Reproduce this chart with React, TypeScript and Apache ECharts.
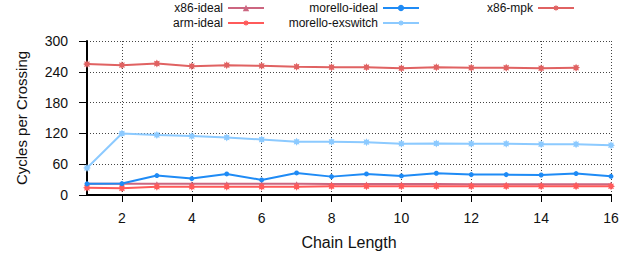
import React, { useEffect, useRef } from "react";
import * as echarts from "echarts";

const chainLengths = ["1","2","3","4","5","6","7","8","9","10","11","12","13","14","15","16"];
const x86Ideal = [22, 22, 22, 22, 22, 22, 22, 21.5, 21.5, 21.5, 21.5, 21, 21, 21, 21, 21];
const armIdeal = [14, 13, 16, 16, 16, 16, 16, 17, 17, 17, 17, 17, 17, 17, 17, 17];
const morelloIdeal = [21.7, 22.3, 37.8, 32, 41, 29.4, 43, 35.8, 41, 37.2, 42.3, 39.7, 39.7, 39, 41.7, 36.4];
const morelloExswitch = [52.7, 119.8, 117, 114.7, 112, 108, 103.7, 103.7, 103, 99.8, 100.5, 99.8, 99.8, 99, 99, 97];
const x86Mpk = [255, 253, 256, 251, 253, 251.6, 250, 249, 249, 247, 249, 248, 248, 247, 248];
const yTicks = { min: 0, max: 300, interval: 60 };

function starPath(): string {
  const pts: string[] = [];
  for (let i = 0; i < 16; i++) {
    const a = (Math.PI * 2 * i) / 16 - Math.PI / 2;
    const r = i % 2 === 0 ? 10 : 6;
    pts.push(`${(10 + r * Math.cos(a)).toFixed(2)} ${(10 + r * Math.sin(a)).toFixed(2)}`);
  }
  return "path://M" + pts.join(" L") + " Z";
}

export default function App() {
  const ref = useRef<HTMLDivElement>(null);
  useEffect(() => {
    if (!ref.current) return;
    const chart = echarts.init(ref.current, undefined, { renderer: "svg" });
    const star = starPath();
    const font = "Liberation Sans";
    const mk = (name: string, data: number[], color: string, symbol: string, size: number, z: number) => ({
      name,
      type: "line",
      data,
      symbol,
      symbolSize: size,
      showSymbol: true,
      z,
      lineStyle: { color, width: 2 },
      itemStyle: { color },
    });
    const legendItem = (name: string, right: number, top: number) => ({
      data: [name],
      right,
      top,
      orient: "vertical",
      align: "right",
      padding: 0,
      itemWidth: 36,
      itemHeight: 8,
      textStyle: { fontFamily: font, fontSize: 12, lineHeight: 11, color: "#111" },
    });
    chart.setOption({
      animation: false,
      backgroundColor: "#fff",
      grid: { left: 87, right: 18, top: 41, bottom: 63, containLabel: false },
      legend: [
        legendItem("x86-ideal", 364, 2),
        legendItem("arm-ideal", 364, 17),
        legendItem("morello-ideal", 209, 2),
        legendItem("morello-exswitch", 209, 17),
        legendItem("x86-mpk", 54, 2),
      ],
      xAxis: {
        type: "category",
        data: chainLengths,
        boundaryGap: false,
        name: "Chain Length",
        nameLocation: "middle",
        nameGap: 39,
        nameTextStyle: { fontFamily: font, fontSize: 16, color: "#111" },
        axisLine: { lineStyle: { color: "#000", width: 2 } },
        axisTick: { show: true, length: 7, interval: (i: number) => i % 2 === 1, lineStyle: { color: "#000", width: 1 } },
        axisLabel: { interval: (i: number) => i % 2 === 1, fontFamily: font, fontSize: 14, color: "#111", margin: 16 },
        splitLine: { show: true, interval: (i: number) => i % 2 === 1, lineStyle: { color: "#444", type: [1, 2], width: 1 } },
      },
      yAxis: {
        type: "value",
        min: yTicks.min,
        max: yTicks.max,
        interval: yTicks.interval,
        name: "Cycles per Crossing",
        nameLocation: "middle",
        nameGap: 58,
        nameTextStyle: { fontFamily: font, fontSize: 15, color: "#111" },
        axisLine: { show: true, lineStyle: { color: "#000", width: 2 } },
        axisTick: { show: true, length: 8, lineStyle: { color: "#000", width: 1 } },
        axisLabel: { fontFamily: font, fontSize: 14, color: "#111", margin: 19 },
        splitLine: { show: true, lineStyle: { color: "#444", type: [1, 2], width: 1 } },
      },
      series: [
        mk("x86-ideal", x86Ideal, "#cc6680", "triangle", 5, 2),
        mk("arm-ideal", armIdeal, "#ff5a5a", star, 8, 3),
        mk("morello-ideal", morelloIdeal, "#1f8bf5", "circle", 5, 4),
        mk("morello-exswitch", morelloExswitch, "#8ccaff", star, 8, 2),
        mk("x86-mpk", x86Mpk, "#e06262", star, 8, 2),
      ],
    });
    return () => chart.dispose();
  }, []);
  return <div ref={ref} style={{ width: 629, height: 258, position: "absolute", left: 0, top: 0 }} />;
}
